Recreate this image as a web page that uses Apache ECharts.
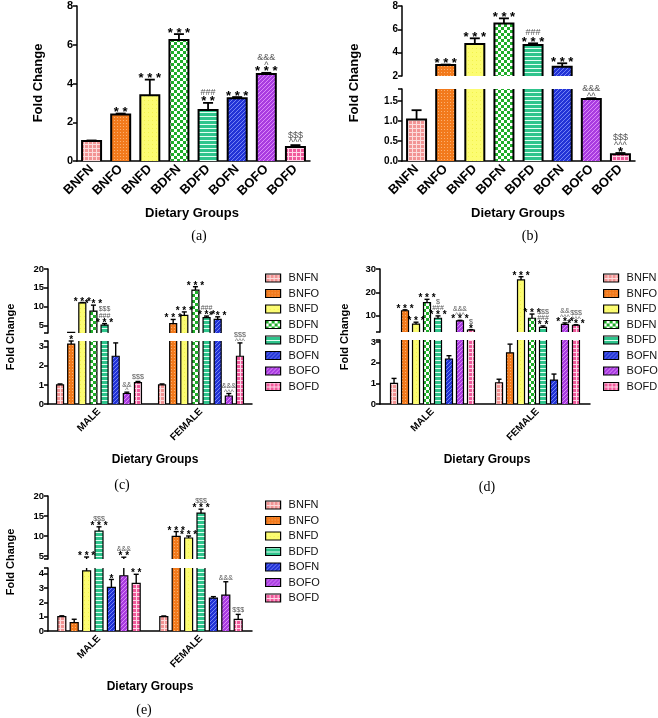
<!DOCTYPE html>
<html lang="en">
<head>
<meta charset="utf-8">
<title>Fold Change</title>
<script src="https://cdn.jsdelivr.net/npm/echarts@6.0.0/dist/echarts.min.js"></script>
<style>html,body{margin:0;padding:0;background:#fff;}</style>
</head>
<body>
<div id="main" style="width:658px;height:718px;"></div>
<script>
// group names
var groups = ['BNFN', 'BNFO', 'BNFD', 'BDFN', 'BDFD', 'BOFN', 'BOFO', 'BOFD'];
var groupsE = ['BNFN', 'BNFO', 'BNFD', 'BDFD', 'BOFN', 'BOFO', 'BOFD'];
var sexes = ['MALE', 'FEMALE'];

// (a) mean, top of error bar, significance marks
var meanA = [1.03, 2.4, 3.4, 6.24, 2.63, 3.24, 4.49, 0.72];
var errA = [1.06, 2.45, 4.2, 6.55, 3.0, 3.3, 4.55, 0.82];
var sigA = ['', '**', '***', '***', '###\n**', '***', '&&&\n^\n***', '$$$\n^^^'];

// (b)
var meanB = [1.04, 2.94, 4.74, 6.5, 4.66, 2.8, 1.55, 0.17];
var errB = [1.27, 2.98, 5.23, 6.94, 4.8, 3.09, 1.57, 0.2];
var sigB = ['', '***', '***', '***', '###\n***', '***', '&&&\n^^', '$$$\n^^^\n*'];

// (c) male / female
var meanCm = [1.0, 3.14, 11.0, 8.8, 5.07, 2.5, 0.55, 1.12];
var errCm = [1.05, 3.3, 11.1, 10.4, 5.5, 3.2, 0.62, 1.18];
var sigCm = ['', '*', '***', '***', '$$$\n###\n***', '', '&&\n^', '$$$'];
var meanCf = [1.0, 5.5, 7.7, 14.4, 7.1, 6.6, 0.42, 2.5];
var errCf = [1.05, 6.6, 8.6, 15.3, 7.5, 7.3, 0.55, 3.2];
var sigCf = ['', '***', '***', '***', '###\n***', '***', '&&&\n^^^', '$$$\n^^^'];

// (d)
var meanDm = [1.0, 12.1, 6.4, 15.6, 8.9, 2.18, 7.8, 3.86];
var errDm = [1.24, 12.5, 7.2, 17.0, 9.9, 2.34, 8.0, 4.0];
var sigDm = ['', '***', '***', '***', '$\n###\n***', '', '&&&\n^^^\n***', '$\n*'];
var meanDf = [1.03, 2.48, 25.3, 8.9, 5.0, 1.16, 6.3, 5.9];
var errDf = [1.2, 2.9, 26.7, 10.7, 5.6, 1.45, 6.9, 6.1];
var sigDf = ['', '', '***', '***', '$$$\n###\n**', '', '&&\n^^^\n***', '$$$\n^^^\n***'];

// (e)
var meanEm = [1.0, 0.58, 4.2, 11.25, 3.05, 3.86, 3.33];
var errEm = [1.06, 0.82, 4.75, 12.3, 3.6, 4.7, 3.96];
var sigEm = ['', '', '***', '$$$\n***', '*', '&&&\n**', '**'];
var meanEf = [1.0, 9.9, 9.5, 15.7, 2.3, 2.5, 0.81];
var errEf = [1.05, 11.1, 10.0, 16.7, 2.4, 3.44, 1.16];
var sigEf = ['', '***', '***', '$$$\n***', '', '&&&', '$$$'];

var SANS = '"Liberation Sans", Arial, sans-serif';
var SERIF = '"Liberation Serif", "Times New Roman", serif';

// hatch fills
function pat(size, base, draw) {
    var c = document.createElement('canvas');
    c.width = c.height = size;
    var g = c.getContext('2d');
    g.fillStyle = base;
    g.fillRect(0, 0, size, size);
    draw(g);
    return { image: c, repeat: 'repeat' };
}
var fills = {
    BNFN: pat(4, '#f29494', function (g) { g.fillStyle = '#fcdcdc'; g.fillRect(0, 0, 4, 1); g.fillRect(0, 0, 1, 4); }),
    BNFO: pat(3, '#f27a1c', function (g) { g.fillStyle = '#fbb070'; g.fillRect(0, 0, 1, 1); }),
    BNFD: pat(4, '#fcfc72', function (g) { g.fillStyle = '#f2f24a'; g.fillRect(0, 0, 1, 1); }),
    BDFN: pat(6, '#ffffff', function (g) { g.fillStyle = '#20ae2a'; g.fillRect(0, 0, 3, 3); g.fillRect(3, 3, 3, 3); }),
    BDFD: pat(4, '#2ec48c', function (g) { g.fillStyle = '#e4fff2'; g.fillRect(0, 0, 4, 1); }),
    BOFN: pat(4, '#2233d6', function (g) { g.fillStyle = '#7483f4'; g.fillRect(0, 3, 1, 1); g.fillRect(1, 2, 1, 1); g.fillRect(2, 1, 1, 1); g.fillRect(3, 0, 1, 1); }),
    BOFO: pat(4, '#a93ce0', function (g) { g.fillStyle = '#dc8af8'; g.fillRect(0, 3, 1, 1); g.fillRect(1, 2, 1, 1); g.fillRect(2, 1, 1, 1); g.fillRect(3, 0, 1, 1); }),
    BOFD: pat(4, '#f05a9b', function (g) { g.fillStyle = '#ffd6e8'; g.fillRect(0, 0, 4, 1); g.fillRect(0, 0, 1, 4); })
};

var gridBox = [
    [77, 6, 233, 155],     // 0 a
    [402, 6, 233, 70],     // 1 b upper
    [402, 89, 233, 72],    // 2 b lower
    [48, 269, 204, 64],    // 3 c upper
    [48, 341, 204, 63],    // 4 c lower
    [380, 269, 210, 63],   // 5 d upper
    [380, 340, 210, 64],   // 6 d lower
    [48, 496, 204, 63],    // 7 e upper
    [48, 568, 204, 63]     // 8 e lower
];

function yAx(gi, min, max, ticks, labels, fs, dec) {
    return {
        type: 'value', gridIndex: gi, min: min, max: max,
        axisLine: { show: true, lineStyle: { color: '#000', width: 1.5 } },
        axisTick: { show: true, length: 4, customValues: ticks, lineStyle: { color: '#000', width: 1.5 } },
        axisLabel: {
            customValues: labels, color: '#000', fontWeight: 'bold', fontSize: fs, fontFamily: SANS, margin: 4,
            formatter: function (v) { return dec ? v.toFixed(1) : String(v); }
        },
        splitLine: { show: false }
    };
}
function xAx(gi, cats, show, fs) {
    return {
        type: 'category', gridIndex: gi, data: cats, show: show,
        axisLine: { lineStyle: { color: '#000', width: 1.5 } },
        axisTick: { alignWithLabel: true, length: 5, lineStyle: { color: '#000', width: 1.5 } },
        axisLabel: { rotate: 45, interval: 0, color: '#000', fontWeight: 'bold', fontSize: fs, fontFamily: SANS, margin: 6 }
    };
}

function offFn(n, bw, gap) {
    var total = n * bw + (n - 1) * bw * gap;
    return function (k) { return -total / 2 + bw / 2 + k * bw * (1 + gap); };
}

function single(mean, err, sig) {
    return mean.map(function (v, i) { return { c: i, k: 0, m: v, e: err[i], s: sig[i] }; });
}
function grouped(mm, em, sm, mf, ef, sf) {
    var out = [];
    mm.forEach(function (v, k) { out.push({ c: 0, k: k, m: v, e: em[k], s: sm[k] }); });
    mf.forEach(function (v, k) { out.push({ c: 1, k: k, m: v, e: ef[k], s: sf[k] }); });
    return out;
}

// ink extent above baseline (em) for the marks
function ink(s) {
    if (s.indexOf('*') >= 0) return [0.43, 0.73];
    if (s.indexOf('^') >= 0) return [0.33, 0.70];
    return [0, 0.73];
}

// bar outlines (open at the axis break), error bars, significance text
function marks(gi, items, cfg) {
    return {
        type: 'custom', xAxisIndex: gi, yAxisIndex: gi, silent: true, z: 5,
        data: items.map(function (d) { return [d.c, d.e]; }),
        renderItem: function (params, api) {
            var d = items[params.dataIndex];
            var cs = params.coordSys;
            var x = api.coord([d.c, 0])[0] + cfg.off(d.k);
            var y0 = api.coord([d.c, 0])[1];
            var yv = api.coord([d.c, d.m])[1];
            var ye = api.coord([d.c, d.e])[1];
            var top = cs.y, bot = cs.y + cs.height;
            var kids = [];
            var blk = { stroke: '#000', lineWidth: cfg.blw, fill: null };
            var xl = x - cfg.bw / 2, xr = x + cfg.bw / 2;
            // outline of the bar inside this grid
            if (yv <= bot) {
                var r1 = Math.max(yv, top), r2 = Math.min(y0, bot);
                if (yv >= top) {
                    kids.push({ type: 'polyline', shape: { points: [[xl, r2], [xl, r1], [xr, r1], [xr, r2]] }, style: blk });
                } else {
                    kids.push({ type: 'line', shape: { x1: xl, y1: r1, x2: xl, y2: r2 }, style: blk });
                    kids.push({ type: 'line', shape: { x1: xr, y1: r1, x2: xr, y2: r2 }, style: blk });
                }
            }
            var own = cfg.lowerMax == null || (cfg.upper ? d.e > cfg.lowerMax : d.e <= cfg.lowerMax);
            var lw = cfg.lw;
            if (own || (!cfg.upper && d.e > cfg.lowerMax)) {
                var y1 = Math.max(ye, top), y2 = Math.min(yv, bot);
                if (y1 < y2) {
                    kids.push({ type: 'line', shape: { x1: x, y1: y1, x2: x, y2: y2 }, style: { stroke: '#000', lineWidth: lw } });
                }
            }
            if (!own) return { type: 'group', children: kids };
            kids.push({ type: 'line', shape: { x1: x - cfg.cap / 2, y1: ye, x2: x + cfg.cap / 2, y2: ye }, style: { stroke: '#000', lineWidth: lw } });
            if (d.s) {
                var lines = d.s.split('\n');
                var cur = ye - cfg.gap0;
                for (var j = lines.length - 1; j >= 0; j--) {
                    var s = lines[j];
                    var star = s.indexOf('*') >= 0;
                    var fs = star ? cfg.starFs : cfg.symFs;
                    var e = ink(s);
                    var base = cur + e[0] * fs;
                    kids.push({
                        type: 'text', x: x, y: base - 0.35 * fs,
                        style: {
                            text: star ? s.split('').join(' ') : s,
                            fill: star ? '#000' : '#555',
                            fontSize: fs, fontFamily: SANS, fontWeight: star ? 'bold' : 'normal',
                            align: 'center', verticalAlign: 'middle'
                        }
                    });
                    cur = base - e[1] * fs - cfg.lg;
                }
            }
            return { type: 'group', children: kids };
        }
    };
}

var series = [];
var bigMark = { off: offFn(1, 19, 0), bw: 19, blw: 2, cap: 10, lw: 1.8, starFs: 13, symFs: 9, gap0: 2, lg: 1.5 };

// (a)
series.push({
    type: 'bar', name: 'A', xAxisIndex: 0, yAxisIndex: 0, barWidth: 19, clip: true, silent: true,
    data: meanA.map(function (v, i) { return { value: v, itemStyle: { color: fills[groups[i]] } }; }),
    itemStyle: { borderWidth: 0 }
});
series.push(marks(0, single(meanA, errA, sigA), Object.assign({}, bigMark, { lowerMax: null })));

// (b) two grids
[1, 2].forEach(function (gi) {
    series.push({
        type: 'bar', name: 'B' + gi, xAxisIndex: gi, yAxisIndex: gi, barWidth: 19, clip: true, silent: true,
        data: meanB.map(function (v, i) { return { value: v, itemStyle: { color: fills[groups[i]] } }; }),
        itemStyle: { borderWidth: 0 }
    });
    series.push(marks(gi, single(meanB, errB, sigB), Object.assign({}, bigMark, { lowerMax: 1.8, upper: gi === 1 })));
});

function groupedPanel(gUp, gLo, names, mm, em, sm, mf, ef, sf, bw, gap, lowerMax) {
    [gUp, gLo].forEach(function (gi) {
        names.forEach(function (nm, k) {
            series.push({
                type: 'bar', name: nm, xAxisIndex: gi, yAxisIndex: gi, barWidth: bw, barGap: (gap * 100) + '%',
                clip: true, silent: true, data: [mm[k], mf[k]],
                itemStyle: { color: fills[nm], borderColor: '#000', borderWidth: 0 }
            });
        });
        series.push(marks(gi, grouped(mm, em, sm, mf, ef, sf), {
            off: offFn(names.length, bw, gap), bw: bw, blw: 1.2, cap: 5, lw: 1.4, starFs: 10, symFs: 7, gap0: 1.5, lg: 1,
            lowerMax: lowerMax, upper: gi === gUp
        }));
    });
}
groupedPanel(3, 4, groups, meanCm, errCm, sigCm, meanCf, errCf, sigCf, 7, 0.59, 3.3);
groupedPanel(5, 6, groups, meanDm, errDm, sigDm, meanDf, errDf, sigDf, 7, 0.57, 3.1);
groupedPanel(7, 8, groupsE, meanEm, errEm, sigEm, meanEf, errEf, sigEf, 8, 0.55, 4.4);

var xAxes = [
    xAx(0, groups, true, 13),
    xAx(1, groups, false, 13), xAx(2, groups, true, 13),
    xAx(3, sexes, false, 10), xAx(4, sexes, true, 10),
    xAx(5, sexes, false, 10), xAx(6, sexes, true, 10),
    xAx(7, sexes, false, 10), xAx(8, sexes, true, 10)
];
var yAxes = [
    yAx(0, 0, 8, [0, 2, 4, 6, 8], [0, 2, 4, 6, 8], 11),
    yAx(1, 2, 8, [2, 4, 6, 8], [2, 4, 6, 8], 10),
    yAx(2, 0, 1.8, [0, 0.5, 1, 1.5, 1.8], [0, 0.5, 1, 1.5], 10, true),
    yAx(3, 3, 20, [3, 5, 10, 15, 20], [5, 10, 15, 20], 9.5),
    yAx(4, 0, 3.3, [0, 1, 2, 3, 3.3], [0, 1, 2, 3], 9.5),
    yAx(5, 3, 30, [3, 10, 20, 30], [10, 20, 30], 9.5),
    yAx(6, 0, 3.1, [0, 1, 2, 3, 3.1], [0, 1, 2, 3], 9.5),
    yAx(7, 4.25, 20, [4.25, 5, 10, 15, 20], [5, 10, 15, 20], 9.5),
    yAx(8, 0, 4.4, [0, 1, 2, 3, 4, 4.4], [0, 1, 2, 3, 4], 9.5)
];

function legendAt(names, left, top) {
    return {
        data: names, left: left, top: top, orient: 'vertical', icon: 'rect', padding: 0,
        itemWidth: 15, itemHeight: 8, itemGap: 3.5, selectedMode: false,
        itemStyle: { borderColor: '#000', borderWidth: 1.2 },
        textStyle: { fontSize: 11, fontFamily: SANS, color: '#111', lineHeight: 12, padding: [0, 0, 0, 3] }
    };
}

function label(text, x, y, opt) {
    return {
        type: 'text', x: x, y: y, rotation: opt.rot || 0, silent: true,
        style: {
            text: text, fill: '#000', fontSize: opt.fs, fontWeight: opt.bold ? 'bold' : 'normal',
            fontFamily: opt.font || SANS, align: 'center', verticalAlign: 'middle'
        }
    };
}
var titles = [
    label('Fold Change', 38, 83, { fs: 13, bold: true, rot: Math.PI / 2 }),
    label('Dietary Groups', 192, 213, { fs: 13, bold: true }),
    label('(a)', 199, 236, { fs: 14, font: SERIF }),
    label('Fold Change', 354, 83, { fs: 13, bold: true, rot: Math.PI / 2 }),
    label('Dietary Groups', 518, 213, { fs: 13, bold: true }),
    label('(b)', 530, 236, { fs: 14, font: SERIF }),
    label('Fold Change', 11, 337, { fs: 11, bold: true, rot: Math.PI / 2 }),
    label('Dietary Groups', 155, 460, { fs: 12, bold: true }),
    label('(c)', 122, 485, { fs: 14, font: SERIF }),
    label('Fold Change', 345, 337, { fs: 11, bold: true, rot: Math.PI / 2 }),
    label('Dietary Groups', 487, 460, { fs: 12, bold: true }),
    label('(d)', 487, 487, { fs: 14, font: SERIF }),
    label('Fold Change', 11, 562, { fs: 11, bold: true, rot: Math.PI / 2 }),
    label('Dietary Groups', 150, 687, { fs: 12, bold: true }),
    label('(e)', 144, 710, { fs: 14, font: SERIF })
];

var myChart = echarts.init(document.getElementById('main'), null, { renderer: 'canvas' });
myChart.setOption({
    animation: false,
    backgroundColor: '#fff',
    grid: gridBox.map(function (b) {
        return { left: b[0], top: b[1], width: b[2], height: b[3], containLabel: false, outerBoundsMode: 'none' };
    }),
    xAxis: xAxes,
    yAxis: yAxes,
    legend: [
        legendAt(groups, 265, 272),
        legendAt(groups, 603, 272),
        legendAt(groupsE, 265, 499)
    ],
    graphic: titles,
    series: series
});
</script>
</body>
</html>
